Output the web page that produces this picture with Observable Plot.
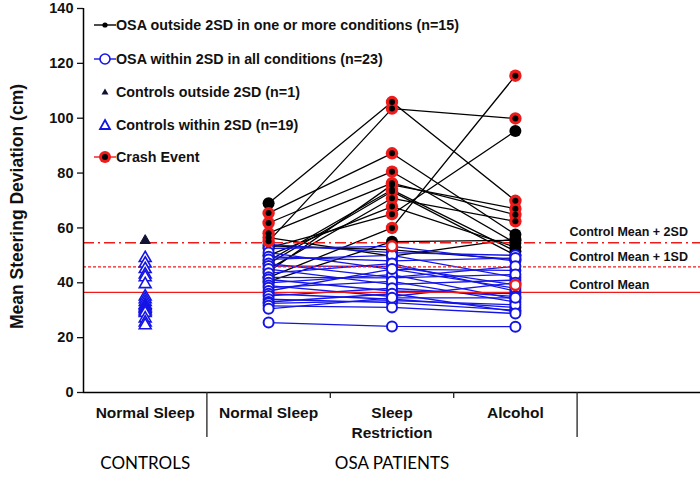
<!DOCTYPE html>
<html><head><meta charset="utf-8">
<script src="https://cdn.jsdelivr.net/npm/d3@7"></script>
<script src="https://cdn.jsdelivr.net/npm/@observablehq/plot@0.6"></script>
<style>
body{margin:0;background:#fff;}
#wrap{position:relative;width:700px;height:482px;font-family:"Liberation Sans",Arial,sans-serif;}
.leg{position:absolute;left:94px;height:20px;display:flex;align-items:center;font-weight:bold;font-size:14.3px;color:#111;white-space:nowrap;}
.leg svg{width:22px;height:20px;margin-right:0px;}
</style></head><body><div id="wrap"></div>
<script>
// ---- categories & labels ----
const conditions = ["Controls Normal Sleep", "OSA Normal Sleep", "OSA Sleep Restriction", "OSA Alcohol"];
const tickLabels = ["Normal Sleep", "Normal Sleep", "Sleep\nRestriction", "Alcohol"];
const groupLabels = ["CONTROLS", "OSA PATIENTS"];
const groupCenters = ["Controls Normal Sleep", "OSA Sleep Restriction"];
const longSeparators = [1, 4];
const shortSeparators = [2, 3];
const yTicks = [0, 20, 40, 60, 80, 100, 120, 140];

// ---- controls ----
const controlsWithin = [49, 47, 45, 43, 42, 39.5, 35, 34, 33, 32, 31.5, 31, 30.5, 30, 29.5, 29, 27, 25.5, 24.5];
const controlsOutside = [55.4];

// ---- OSA outside 2SD in one or more conditions (n=15) ----
const outsideNS  = [69.0, 55.1, 42.0, 52.7, 65.4, 61.8, 58.1, 48.0, 45.0, 50.0, 56.5, 44.0, 47.0, 53.5, 40.5];
const outsideSR  = [105.9, 103.5, 60.0, 65.0, 87.2, 80.5, 76.3, 73.9, 70.8, 67.8, 49.7, 75.7, 73.3, 52.0, 55.0];
const outsideAlc = [69.9, 99.9, 115.5, 95.3, 57.6, 54.5, 64.8, 51.5, 62.4, 53.0, 56.0, 67.0, 50.0, 48.5, 55.5];
const outsideCrashNS  = [0,1,0,0,1,1,1,0,0,0,1,0,0,0,0];
const outsideCrashSR  = [1,1,1,1,1,1,1,1,1,1,0,1,1,0,0];
const outsideCrashAlc = [1,1,1,0,0,0,1,0,1,0,0,1,0,0,0];

// ---- OSA within 2SD in all conditions (n=23) ----
const withinNS  = [54, 52.5, 51, 49.5, 48.5, 47, 46.1, 45, 43.5, 42, 41.2, 40, 39, 38.2, 37, 36, 35.2, 34, 33, 32.5, 31.6, 30.5, 25.5];
const withinSR  = [51, 53.3, 44.9, 48, 50, 42, 46, 39.4, 47, 41.8, 37, 43, 35, 40.5, 45, 34, 38, 32.8, 36, 33.5, 31, 34.5, 24.1];
const withinAlc = [50, 47.9, 44.5, 49, 42, 46, 39.2, 41, 37, 43, 36, 34, 40, 33, 38, 31, 35, 30, 29.5, 32, 28.8, 34.5, 24];
const withinCrashNS  = [0,0,0,0,0,0,0,0,0,0,0,0,0,0,0,0,0,0,0,0,0,0,0];
const withinCrashSR  = [0,1,0,0,0,0,0,0,0,0,0,0,0,0,0,0,0,0,0,0,0,0,0];
const withinCrashAlc = [0,0,0,0,0,0,1,0,0,0,0,0,0,0,0,0,0,0,0,0,0,0,0];

// ---- reference lines ----
const refValues = [36.5, 45.8, 54.6];
const refLabels = ["Control Mean", "Control Mean + 1SD", "Control Mean + 2SD"];

// ---- colours ----
const BLUE = "#1414e6", RED = "#ee1b1b", BLACK = "#000";

// ---- build tidy rows ----
const xi = c => conditions.indexOf(c) + 0.5;
const osaRows = [];
function addGroup(group, ns, sr, alc, cns, csr, calc) {
  ns.forEach((_, i) => {
    [[ns, cns, conditions[1]], [sr, csr, conditions[2]], [alc, calc, conditions[3]]].forEach(([vals, crash, cond]) => {
      osaRows.push({id: group + i, group, cond, value: vals[i], crash: crash[i] === 1});
    });
  });
}
addGroup("outside", outsideNS, outsideSR, outsideAlc, outsideCrashNS, outsideCrashSR, outsideCrashAlc);
addGroup("within", withinNS, withinSR, withinAlc, withinCrashNS, withinCrashSR, withinCrashAlc);
const outside = osaRows.filter(d => d.group === "outside");
const within = osaRows.filter(d => d.group === "within");
const ctrlRowsW = controlsWithin.map(v => ({cond: conditions[0], value: v}));
const ctrlRowsO = controlsOutside.map(v => ({cond: conditions[0], value: v}));
const X = d => xi(d.cond);

const refStyles = [
  {stroke: RED, strokeWidth: 1.4},
  {stroke: RED, strokeWidth: 1.4, strokeDasharray: "3,2"},
  {stroke: RED, strokeWidth: 1.5, strokeDasharray: "11,4,2,4"}
];
const refLabelDy = [-7, -10, -11];

const chart = Plot.plot({
  width: 700, height: 482,
  marginLeft: 83, marginRight: 0, marginTop: 8, marginBottom: 90,
  style: {fontFamily: "'Liberation Sans', Arial, sans-serif", fontWeight: "bold", fontSize: "15px", color: "#111", background: "#fff"},
  x: {domain: [0, 5], axis: null},
  y: {domain: [0, 140]},
  marks: [
    Plot.axisY(yTicks, {tickSize: 6, tickPadding: 4, label: null, fontSize: 14.5, fontWeight: "bold", strokeWidth: 1.3}),
    // OSA lines
    Plot.line(outside, {x: X, y: "value", z: "id", stroke: BLACK, strokeWidth: 1.3}),
    Plot.line(within, {x: X, y: "value", z: "id", stroke: BLUE, strokeWidth: 1.3}),
    // reference lines
    ...refValues.map((v, i) => Plot.ruleY([v], refStyles[i])),
    ...refValues.map((v, i) => Plot.text([refLabels[i]], {y: () => v, frameAnchor: "right", dx: -131, dy: refLabelDy[i], textAnchor: "start", fontSize: 12.5, fontWeight: "bold", fill: "#111"})),
    // axes lines
    Plot.ruleX([0], {stroke: BLACK, strokeWidth: 1.5}),
    Plot.ruleY([0], {stroke: BLACK, strokeWidth: 1.5}),
    Plot.ruleX(longSeparators, {stroke: "#222", strokeWidth: 1.3, insetTop: 384, insetBottom: -45}),
    Plot.ruleX(shortSeparators, {stroke: "#222", strokeWidth: 1.3, insetTop: 384, insetBottom: -6}),
    // tick labels
    Plot.text(tickLabels, {x: (d, i) => i + 0.5, frameAnchor: "bottom", dy: 11, lineAnchor: "top", lineHeight: 1.3, fontSize: 15.5, fontWeight: "bold", fill: "#111"}),
    Plot.text(groupLabels, {x: (d, i) => xi(groupCenters[i]), frameAnchor: "bottom", dy: 76, fontSize: 17, fontWeight: "normal", fontFamily: "Lato, 'Open Sans', sans-serif", fill: "#000"}),
    // y label
    Plot.text(["Mean Steering Deviation (cm)"], {frameAnchor: "left", dx: -66, dy: 6, rotate: -90, textAnchor: "middle", fontSize: 17.5, fontWeight: "bold", fill: "#111"}),
    // controls
    Plot.dot(ctrlRowsW, {x: X, y: "value", symbol: "triangle", r: 4.4, stroke: BLUE, fill: "white", strokeWidth: 1.6}),
    Plot.dot(ctrlRowsO, {x: X, y: "value", symbol: "triangle", r: 3.8, fill: "#111133", stroke: "#111133", strokeWidth: 1}),
    // OSA markers
    Plot.dot(outside.filter(d => !d.crash), {x: X, y: "value", r: 6, fill: BLACK}),
    Plot.dot(within.filter(d => !d.crash), {x: X, y: "value", r: 5, fill: "white", stroke: BLUE, strokeWidth: 2}),
    Plot.dot(outside.filter(d => d.crash), {x: X, y: "value", r: 6.2, fill: RED}),
    Plot.dot(outside.filter(d => d.crash), {x: X, y: "value", r: 3, fill: BLACK}),
    Plot.dot(within.filter(d => d.crash), {x: X, y: "value", r: 5, fill: "white", stroke: RED, strokeWidth: 2.5})
  ]
});
const wrap = document.getElementById("wrap");
wrap.appendChild(chart);

// ---- legend ----
const legendItems = [
  {label: "OSA outside 2SD in one or more conditions (n=15)", line: BLACK, icon: `<circle cx="11" cy="10" r="2.6" fill="${BLACK}"/>`},
  {label: "OSA within 2SD in all conditions (n=23)", line: BLUE, icon: `<circle cx="11" cy="10" r="5" fill="white" stroke="${BLUE}" stroke-width="1.6"/>`},
  {label: "Controls outside 2SD (n=1)", line: null, icon: `<path d="M11,6.5 L14.5,12.5 L7.5,12.5 Z" fill="#111133"/>`},
  {label: "Controls within 2SD (n=19)", line: null, icon: `<path d="M11,5 L16,14 L6,14 Z" fill="white" stroke="${BLUE}" stroke-width="1.8"/>`},
  {label: "Crash Event", line: RED, icon: `<circle cx="11" cy="10" r="6" fill="${RED}"/><circle cx="11" cy="10" r="3" fill="${BLACK}"/>`}
];
const legendY = [25, 59, 92, 125, 157];
legendItems.forEach((it, i) => {
  const div = document.createElement("div");
  div.className = "leg";
  div.style.top = (legendY[i] - 10) + "px";
  div.innerHTML = `<svg viewBox="0 0 22 20">${it.line ? `<line x1="0" x2="22" y1="10" y2="10" stroke="${it.line}" stroke-width="1.4"/>` : ""}${it.icon}</svg><span>${it.label}</span>`;
  wrap.appendChild(div);
});
</script></body></html>
